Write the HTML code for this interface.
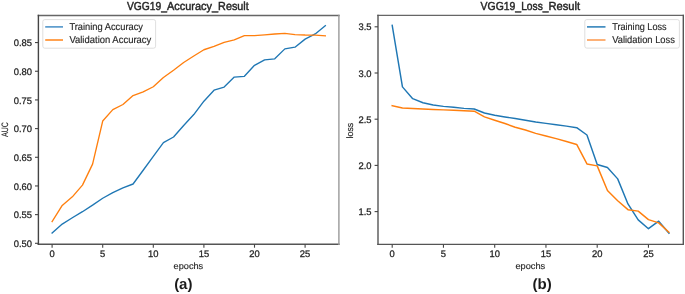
<!DOCTYPE html><html><head><meta charset="utf-8"><style>
html,body{margin:0;padding:0;background:#fff;width:685px;height:294px;overflow:hidden}
svg{display:block;font-family:"Liberation Sans", sans-serif;filter:blur(0.35px);text-rendering:geometricPrecision}
svg text{stroke:#262626;stroke-width:0.15px}
</style></head><body>
<svg width="685" height="294" viewBox="0 0 685 294">
<rect width="685" height="294" fill="#fff"/>
<line x1="37.699999999999996" y1="15.45" x2="339.59999999999997" y2="15.45" stroke="#666" stroke-width="1.4"/>
<line x1="37.699999999999996" y1="244.3" x2="339.59999999999997" y2="244.3" stroke="#555" stroke-width="1.4"/>
<line x1="38.4" y1="14.75" x2="38.4" y2="245.0" stroke="#444" stroke-width="1.4"/>
<line x1="338.9" y1="14.75" x2="338.9" y2="245.0" stroke="#999" stroke-width="1.4"/>
<line x1="52.10" y1="244.3" x2="52.10" y2="247.70000000000002" stroke="#444" stroke-width="1.1"/>
<text x="52.10" y="257.2" font-size="9.5" fill="#262626" style="stroke-width:0.28px" text-anchor="middle" textLength="5.23" lengthAdjust="spacingAndGlyphs">0</text>
<line x1="102.70" y1="244.3" x2="102.70" y2="247.70000000000002" stroke="#444" stroke-width="1.1"/>
<text x="102.70" y="257.2" font-size="9.5" fill="#262626" style="stroke-width:0.28px" text-anchor="middle" textLength="5.23" lengthAdjust="spacingAndGlyphs">5</text>
<line x1="153.30" y1="244.3" x2="153.30" y2="247.70000000000002" stroke="#444" stroke-width="1.1"/>
<text x="153.30" y="257.2" font-size="9.5" fill="#262626" style="stroke-width:0.28px" text-anchor="middle" textLength="10.46" lengthAdjust="spacingAndGlyphs">10</text>
<line x1="203.90" y1="244.3" x2="203.90" y2="247.70000000000002" stroke="#444" stroke-width="1.1"/>
<text x="203.90" y="257.2" font-size="9.5" fill="#262626" style="stroke-width:0.28px" text-anchor="middle" textLength="10.46" lengthAdjust="spacingAndGlyphs">15</text>
<line x1="254.50" y1="244.3" x2="254.50" y2="247.70000000000002" stroke="#444" stroke-width="1.1"/>
<text x="254.50" y="257.2" font-size="9.5" fill="#262626" style="stroke-width:0.28px" text-anchor="middle" textLength="10.46" lengthAdjust="spacingAndGlyphs">20</text>
<line x1="305.10" y1="244.3" x2="305.10" y2="247.70000000000002" stroke="#444" stroke-width="1.1"/>
<text x="305.10" y="257.2" font-size="9.5" fill="#262626" style="stroke-width:0.28px" text-anchor="middle" textLength="10.46" lengthAdjust="spacingAndGlyphs">25</text>
<line x1="35.0" y1="243.30" x2="38.4" y2="243.30" stroke="#444" stroke-width="1.1"/>
<text x="32" y="247.15" font-size="9.5" fill="#262626" style="stroke-width:0.28px" text-anchor="end" textLength="18.30" lengthAdjust="spacingAndGlyphs">0.50</text>
<line x1="35.0" y1="214.62" x2="38.4" y2="214.62" stroke="#444" stroke-width="1.1"/>
<text x="32" y="218.47" font-size="9.5" fill="#262626" style="stroke-width:0.28px" text-anchor="end" textLength="18.30" lengthAdjust="spacingAndGlyphs">0.55</text>
<line x1="35.0" y1="185.95" x2="38.4" y2="185.95" stroke="#444" stroke-width="1.1"/>
<text x="32" y="189.80" font-size="9.5" fill="#262626" style="stroke-width:0.28px" text-anchor="end" textLength="18.30" lengthAdjust="spacingAndGlyphs">0.60</text>
<line x1="35.0" y1="157.28" x2="38.4" y2="157.28" stroke="#444" stroke-width="1.1"/>
<text x="32" y="161.12" font-size="9.5" fill="#262626" style="stroke-width:0.28px" text-anchor="end" textLength="18.30" lengthAdjust="spacingAndGlyphs">0.65</text>
<line x1="35.0" y1="128.60" x2="38.4" y2="128.60" stroke="#444" stroke-width="1.1"/>
<text x="32" y="132.45" font-size="9.5" fill="#262626" style="stroke-width:0.28px" text-anchor="end" textLength="18.30" lengthAdjust="spacingAndGlyphs">0.70</text>
<line x1="35.0" y1="99.93" x2="38.4" y2="99.93" stroke="#444" stroke-width="1.1"/>
<text x="32" y="103.78" font-size="9.5" fill="#262626" style="stroke-width:0.28px" text-anchor="end" textLength="18.30" lengthAdjust="spacingAndGlyphs">0.75</text>
<line x1="35.0" y1="71.25" x2="38.4" y2="71.25" stroke="#444" stroke-width="1.1"/>
<text x="32" y="75.10" font-size="9.5" fill="#262626" style="stroke-width:0.28px" text-anchor="end" textLength="18.30" lengthAdjust="spacingAndGlyphs">0.80</text>
<line x1="35.0" y1="42.57" x2="38.4" y2="42.57" stroke="#444" stroke-width="1.1"/>
<text x="32" y="46.42" font-size="9.5" fill="#262626" style="stroke-width:0.28px" text-anchor="end" textLength="18.30" lengthAdjust="spacingAndGlyphs">0.85</text>
<polyline points="52.10,232.98 62.22,224.09 72.34,217.78 82.46,211.70 92.58,205.16 102.70,198.28 112.82,192.55 122.94,187.96 133.06,184.00 143.18,170.24 153.30,156.47 163.42,142.65 173.54,137.03 183.66,125.45 193.78,114.55 203.90,101.19 214.02,90.18 224.14,87.08 234.26,77.10 244.38,76.30 254.50,65.29 264.62,59.89 274.74,58.81 284.86,48.88 294.98,47.16 305.10,39.13 315.22,33.97 325.34,25.60" fill="none" stroke="#1f77b4" stroke-width="1.35" stroke-linejoin="round" stroke-linecap="square"/>
<polyline points="52.10,221.51 62.22,205.45 72.34,196.85 82.46,185.09 92.58,164.16 102.70,121.03 112.82,109.67 122.94,104.51 133.06,95.57 143.18,91.90 153.30,86.73 163.42,77.56 173.54,70.22 183.66,62.48 193.78,56.05 203.90,49.74 214.02,46.42 224.14,42.29 234.26,39.88 244.38,35.69 254.50,35.69 264.62,34.83 274.74,33.97 284.86,33.40 294.98,34.55 305.10,35.00 315.22,35.18 325.34,35.81" fill="none" stroke="#ff7f0e" stroke-width="1.35" stroke-linejoin="round" stroke-linecap="square"/>
<text x="127.0" y="10.4" font-size="11.6" fill="#262626" textLength="40.0" lengthAdjust="spacingAndGlyphs" style="stroke-width:0.45px">VGG19_</text>
<text x="167.0" y="10.4" font-size="11.6" fill="#262626" textLength="51.1" lengthAdjust="spacingAndGlyphs" style="stroke-width:0.45px">Accuracy_</text>
<text x="218.1" y="10.4" font-size="11.6" fill="#262626" textLength="30.6" lengthAdjust="spacingAndGlyphs" style="stroke-width:0.45px">Result</text>
<text x="188.4" y="268.6" font-size="8.9" fill="#262626" text-anchor="middle" textLength="29.6" lengthAdjust="spacingAndGlyphs">epochs</text>
<text transform="translate(7.6,129.6) rotate(-90)" font-size="9.3" fill="#262626" text-anchor="middle" textLength="14.8" lengthAdjust="spacingAndGlyphs">AUC</text>
<rect x="42.8" y="19.6" width="112.8" height="28.6" rx="2" ry="2" fill="#fff" fill-opacity="0.8" stroke="#d6d6d6" stroke-width="0.8"/>
<line x1="45.2" y1="26.9" x2="63" y2="26.9" stroke="#3f8ac4" stroke-width="1.45"/>
<line x1="45.2" y1="40" x2="63" y2="40" stroke="#ff7f0e" stroke-width="1.45"/>
<text x="69.4" y="29.9" font-size="10" fill="#262626" textLength="73.6" lengthAdjust="spacingAndGlyphs">Training Accuracy</text>
<text x="69.4" y="42.6" font-size="10" fill="#262626" textLength="81.9" lengthAdjust="spacingAndGlyphs">Validation Accuracy</text>
<text x="183.3" y="289.4" font-size="15" font-weight="bold" fill="#1a1a1a" style="stroke:none" text-anchor="middle">(a)</text>
<line x1="377.3" y1="15.35" x2="684.0" y2="15.35" stroke="#666" stroke-width="1.4"/>
<line x1="377.3" y1="244.4" x2="684.0" y2="244.4" stroke="#555" stroke-width="1.4"/>
<line x1="378.0" y1="14.65" x2="378.0" y2="245.1" stroke="#555" stroke-width="1.4"/>
<line x1="683.3" y1="14.65" x2="683.3" y2="245.1" stroke="#555" stroke-width="1.4"/>
<line x1="392.20" y1="244.4" x2="392.20" y2="247.8" stroke="#444" stroke-width="1.1"/>
<text x="392.20" y="257.2" font-size="9.5" fill="#262626" style="stroke-width:0.28px" text-anchor="middle" textLength="5.23" lengthAdjust="spacingAndGlyphs">0</text>
<line x1="443.45" y1="244.4" x2="443.45" y2="247.8" stroke="#444" stroke-width="1.1"/>
<text x="443.45" y="257.2" font-size="9.5" fill="#262626" style="stroke-width:0.28px" text-anchor="middle" textLength="5.23" lengthAdjust="spacingAndGlyphs">5</text>
<line x1="494.70" y1="244.4" x2="494.70" y2="247.8" stroke="#444" stroke-width="1.1"/>
<text x="494.70" y="257.2" font-size="9.5" fill="#262626" style="stroke-width:0.28px" text-anchor="middle" textLength="10.46" lengthAdjust="spacingAndGlyphs">10</text>
<line x1="545.95" y1="244.4" x2="545.95" y2="247.8" stroke="#444" stroke-width="1.1"/>
<text x="545.95" y="257.2" font-size="9.5" fill="#262626" style="stroke-width:0.28px" text-anchor="middle" textLength="10.46" lengthAdjust="spacingAndGlyphs">15</text>
<line x1="597.20" y1="244.4" x2="597.20" y2="247.8" stroke="#444" stroke-width="1.1"/>
<text x="597.20" y="257.2" font-size="9.5" fill="#262626" style="stroke-width:0.28px" text-anchor="middle" textLength="10.46" lengthAdjust="spacingAndGlyphs">20</text>
<line x1="648.45" y1="244.4" x2="648.45" y2="247.8" stroke="#444" stroke-width="1.1"/>
<text x="648.45" y="257.2" font-size="9.5" fill="#262626" style="stroke-width:0.28px" text-anchor="middle" textLength="10.46" lengthAdjust="spacingAndGlyphs">25</text>
<line x1="374.6" y1="211.60" x2="378.0" y2="211.60" stroke="#444" stroke-width="1.1"/>
<text x="371.6" y="215.45" font-size="9.5" fill="#262626" style="stroke-width:0.28px" text-anchor="end" textLength="13.07" lengthAdjust="spacingAndGlyphs">1.5</text>
<line x1="374.6" y1="165.40" x2="378.0" y2="165.40" stroke="#444" stroke-width="1.1"/>
<text x="371.6" y="169.25" font-size="9.5" fill="#262626" style="stroke-width:0.28px" text-anchor="end" textLength="13.07" lengthAdjust="spacingAndGlyphs">2.0</text>
<line x1="374.6" y1="119.20" x2="378.0" y2="119.20" stroke="#444" stroke-width="1.1"/>
<text x="371.6" y="123.05" font-size="9.5" fill="#262626" style="stroke-width:0.28px" text-anchor="end" textLength="13.07" lengthAdjust="spacingAndGlyphs">2.5</text>
<line x1="374.6" y1="73.00" x2="378.0" y2="73.00" stroke="#444" stroke-width="1.1"/>
<text x="371.6" y="76.85" font-size="9.5" fill="#262626" style="stroke-width:0.28px" text-anchor="end" textLength="13.07" lengthAdjust="spacingAndGlyphs">3.0</text>
<line x1="374.6" y1="26.80" x2="378.0" y2="26.80" stroke="#444" stroke-width="1.1"/>
<text x="371.6" y="29.85" font-size="9.5" fill="#262626" style="stroke-width:0.28px" text-anchor="end" textLength="13.07" lengthAdjust="spacingAndGlyphs">3.5</text>
<polyline points="392.20,25.41 402.45,86.86 412.70,98.69 422.95,102.75 433.20,104.97 443.45,106.36 453.70,107.19 463.95,108.39 474.20,109.04 484.45,113.01 494.70,115.23 504.95,116.98 515.20,118.55 525.45,120.22 535.70,121.97 545.95,123.36 556.20,124.74 566.45,126.13 576.70,127.70 586.95,135.00 597.20,164.48 607.45,167.43 617.70,178.89 627.95,203.93 638.20,219.92 648.45,228.69 658.70,221.21 668.95,233.22" fill="none" stroke="#1f77b4" stroke-width="1.45" stroke-linejoin="round" stroke-linecap="square"/>
<polyline points="392.20,105.71 402.45,108.02 412.70,108.57 422.95,109.04 433.20,109.50 443.45,109.87 453.70,110.24 463.95,110.70 474.20,111.16 484.45,116.89 494.70,120.22 504.95,123.54 515.20,127.24 525.45,130.01 535.70,133.34 545.95,136.02 556.20,138.60 566.45,141.56 576.70,144.43 586.95,163.92 597.20,165.86 607.45,190.44 617.70,200.79 627.95,209.66 638.20,211.14 648.45,219.64 658.70,222.87 668.95,232.30" fill="none" stroke="#ff7f0e" stroke-width="1.45" stroke-linejoin="round" stroke-linecap="square"/>
<text x="480.6" y="10.4" font-size="11.6" fill="#262626" textLength="40.55" lengthAdjust="spacingAndGlyphs" style="stroke-width:0.45px">VGG19_</text>
<text x="521.15" y="10.4" font-size="11.6" fill="#262626" textLength="27.4" lengthAdjust="spacingAndGlyphs" style="stroke-width:0.45px">Loss_</text>
<text x="548.55" y="10.4" font-size="11.6" fill="#262626" textLength="31.6" lengthAdjust="spacingAndGlyphs" style="stroke-width:0.45px">Result</text>
<text x="530.3" y="268.5" font-size="8.9" fill="#262626" text-anchor="middle" textLength="29.8" lengthAdjust="spacingAndGlyphs">epochs</text>
<text transform="translate(353.3,130.6) rotate(-90)" font-size="9.3" fill="#262626" text-anchor="middle" textLength="15.8" lengthAdjust="spacingAndGlyphs">loss</text>
<rect x="584.8" y="19.6" width="94.6" height="28.5" rx="2" ry="2" fill="#fff" fill-opacity="0.8" stroke="#d6d6d6" stroke-width="0.8"/>
<line x1="587" y1="26.9" x2="605.5" y2="26.9" stroke="#1f77b4" stroke-width="1.45"/>
<line x1="587" y1="40" x2="605.5" y2="40" stroke="#fd9443" stroke-width="1.45"/>
<text x="612.2" y="29.9" font-size="10" fill="#262626" textLength="54.4" lengthAdjust="spacingAndGlyphs">Training Loss</text>
<text x="612.2" y="42.6" font-size="10" fill="#262626" textLength="62.7" lengthAdjust="spacingAndGlyphs">Validation Loss</text>
<text x="542.2" y="289.4" font-size="15" font-weight="bold" fill="#1a1a1a" style="stroke:none" text-anchor="middle">(b)</text>
</svg></body></html>
